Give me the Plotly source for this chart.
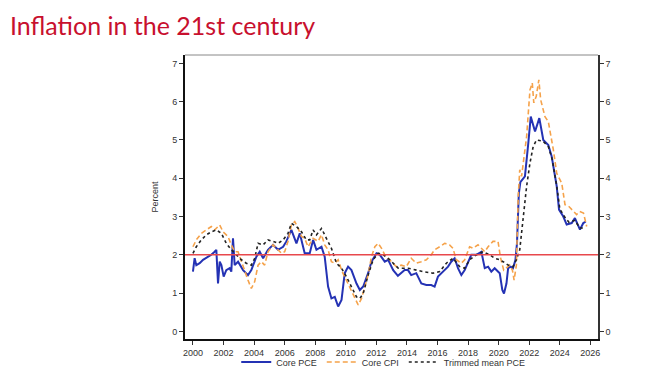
import plotly.graph_objects as go

# Core PCE (blue solid)
pce_x = [2000.0, 2000.11, 2000.22, 2000.44, 2000.66, 2000.98, 2001.2, 2001.42, 2001.53, 2001.64, 2001.75, 2001.86,
         2002.01, 2002.18, 2002.4, 2002.51, 2002.62, 2002.73, 2002.95, 2003.28, 2003.6, 2003.82, 2004.15, 2004.37,
         2004.59, 2004.91, 2005.24, 2005.57, 2005.9, 2006.11, 2006.44, 2006.77, 2006.99, 2007.31, 2007.64, 2007.86,
         2008.08, 2008.41, 2008.62, 2008.84, 2009.06, 2009.28, 2009.5, 2009.72, 2009.93, 2010.15, 2010.37, 2010.7,
         2010.92, 2011.14, 2011.46, 2011.68, 2012.01, 2012.23, 2012.55, 2012.77, 2013.1, 2013.41, 2013.63, 2013.85,
         2014.07, 2014.28, 2014.61, 2014.94, 2015.27, 2015.59, 2015.81, 2016.03, 2016.36, 2016.69, 2016.9, 2017.12,
         2017.34, 2017.56, 2017.78, 2018.0, 2018.21, 2018.54, 2018.87, 2019.09, 2019.31, 2019.52, 2019.74, 2020.07,
         2020.24, 2020.35, 2020.51, 2020.62, 2020.79, 2020.94, 2021.1, 2021.2, 2021.32, 2021.42, 2021.72, 2021.94,
         2022.1, 2022.38, 2022.66, 2022.92, 2023.25, 2023.47, 2023.8, 2023.95, 2024.23, 2024.45, 2024.78, 2024.99,
         2025.32, 2025.54, 2025.7]
pce_y = [1.56, 1.91, 1.73, 1.78, 1.87, 1.95, 2.0, 2.08, 2.13, 1.25, 1.82, 1.73,
         1.43, 1.6, 1.65, 1.56, 2.43, 1.73, 1.82, 1.6, 1.47, 1.6, 1.95, 2.08,
         1.91, 2.13, 2.26, 2.13, 2.21, 2.35, 2.65, 2.3, 2.56, 2.04, 2.04, 2.39,
         2.13, 2.21, 1.95, 1.17, 0.86, 0.9, 0.65, 0.82, 1.52, 1.69, 1.6, 1.25,
         1.08, 1.17, 1.52, 1.82, 2.04, 2.0, 1.82, 1.87, 1.6, 1.45, 1.52, 1.6,
         1.6, 1.47, 1.52, 1.25, 1.21, 1.21, 1.17, 1.43, 1.56, 1.69, 1.82, 1.91,
         1.65, 1.47, 1.6, 1.82, 2.0, 2.0, 2.08, 1.65, 1.69, 1.56, 1.65, 1.52,
         1.08, 0.99, 1.25, 1.65, 1.69, 1.65, 1.87, 2.3, 3.6, 3.9, 4.05, 4.92,
         5.61, 5.22, 5.57, 5.0, 4.87, 4.57, 3.79, 3.18, 3.0, 2.79, 2.83, 2.96,
         2.66, 2.83, 2.87]

# Core CPI (orange dashed)
cpi_x = [2000.0, 2000.22, 2000.55, 2000.87, 2001.2, 2001.42, 2001.75, 2001.97, 2002.29, 2002.51, 2002.73, 2002.95,
         2003.17, 2003.38, 2003.6, 2003.82, 2004.04, 2004.26, 2004.48, 2004.69, 2004.91, 2005.24, 2005.57, 2005.79,
         2006.0, 2006.22, 2006.44, 2006.66, 2006.88, 2007.1, 2007.31, 2007.53, 2007.86, 2008.19, 2008.41, 2008.62,
         2008.84, 2009.06, 2009.28, 2009.5, 2009.72, 2009.93, 2010.15, 2010.37, 2010.59, 2010.81, 2011.03, 2011.24,
         2011.46, 2011.68, 2011.9, 2012.12, 2012.34, 2012.55, 2012.97, 2013.3, 2013.63, 2013.96, 2014.28, 2014.61,
         2014.94, 2015.27, 2015.59, 2015.81, 2016.14, 2016.47, 2016.79, 2017.01, 2017.23, 2017.56, 2017.78, 2018.1,
         2018.32, 2018.65, 2018.87, 2019.09, 2019.31, 2019.63, 2019.96, 2020.11, 2020.33, 2020.51, 2020.72, 2020.9,
         2021.01, 2021.16, 2021.28, 2021.38, 2021.5, 2021.83, 2022.05, 2022.2, 2022.3, 2022.46, 2022.63, 2022.75,
         2023.03, 2023.25, 2023.58, 2023.8, 2024.13, 2024.34, 2024.6, 2025.1, 2025.3, 2025.55, 2025.76]
cpi_y = [2.21, 2.39, 2.56, 2.65, 2.74, 2.65, 2.78, 2.6, 2.48, 2.26, 2.08, 2.08,
         1.82, 1.56, 1.34, 1.12, 1.3, 1.73, 1.82, 1.73, 2.08, 2.26, 2.13, 2.04,
         2.08, 2.35, 2.78, 2.87, 2.69, 2.48, 2.43, 2.21, 2.43, 2.35, 2.52, 2.26,
         2.13, 1.82, 1.78, 1.87, 1.6, 1.43, 1.25, 1.08, 0.9, 0.69, 0.86, 1.17,
         1.47, 1.95, 2.21, 2.3, 2.17, 2.0, 1.82, 1.69, 1.73, 1.69, 1.91, 1.78,
         1.82, 1.87, 2.0, 2.13, 2.21, 2.3, 2.26, 2.17, 1.87, 1.78, 1.87, 2.21,
         2.17, 2.26, 2.17, 2.08, 2.21, 2.35, 2.35, 1.95, 1.6, 1.65, 1.73, 1.6,
         1.34, 1.73, 3.52, 4.22, 4.05, 5.09, 6.31, 6.49, 5.97, 6.14, 6.57, 6.05,
         5.61, 5.48, 4.74, 4.13, 3.87, 3.31, 3.26, 3.05, 3.13, 3.09, 2.74]

# Trimmed mean PCE (black dotted)
tm_x = [2000.0, 2000.22, 2000.55, 2000.87, 2001.2, 2001.53, 2001.86, 2002.18, 2002.51, 2002.84, 2003.17, 2003.49,
        2003.82, 2004.04, 2004.26, 2004.59, 2004.91, 2005.24, 2005.57, 2005.9, 2006.22, 2006.44, 2006.77, 2007.1,
        2007.42, 2007.64, 2007.86, 2008.08, 2008.41, 2008.73, 2009.06, 2009.39, 2009.72, 2010.04, 2010.37, 2010.7,
        2010.92, 2011.14, 2011.46, 2011.79, 2012.12, 2012.45, 2012.88, 2013.43, 2014.07, 2014.61, 2015.05, 2015.7,
        2016.14, 2016.58, 2017.01, 2017.45, 2017.78, 2018.1, 2018.54, 2018.98, 2019.41, 2019.74, 2020.07, 2020.29,
        2020.62, 2020.94, 2021.16, 2021.38, 2021.6, 2021.83, 2022.05, 2022.26, 2022.48, 2022.9, 2023.25, 2023.5,
        2023.8, 2024.0, 2024.3, 2024.6, 2025.0, 2025.3, 2025.7]
tm_y = [2.04, 2.21, 2.39, 2.52, 2.6, 2.65, 2.56, 2.3, 2.13, 2.0, 1.87, 1.78,
        1.73, 1.91, 2.3, 2.26, 2.39, 2.35, 2.3, 2.39, 2.56, 2.82, 2.74, 2.6,
        2.39, 2.39, 2.65, 2.52, 2.69, 2.43, 2.17, 1.78, 1.65, 1.43, 1.17, 0.9,
        0.86, 0.99, 1.47, 1.87, 2.04, 2.0, 1.87, 1.65, 1.65, 1.6, 1.56, 1.52,
        1.56, 1.78, 1.91, 1.69, 1.65, 1.87, 2.0, 2.08, 2.0, 1.91, 1.87, 1.82,
        1.73, 1.69, 1.87, 2.13, 3.0, 3.79, 4.4, 4.83, 5.0, 4.97, 4.83, 4.5,
        3.8, 3.2, 3.0, 2.85, 2.9, 2.7, 2.7]

target = 2.0
x_ticks = list(range(2000, 2027, 2))
y_ticks = list(range(0, 8))

fig = go.Figure()
fig.add_trace(go.Scatter(x=pce_x, y=pce_y, mode="lines", name="Core PCE",
                         line=dict(color="#2432B4", width=2)))
fig.add_trace(go.Scatter(x=cpi_x, y=cpi_y, mode="lines", name="Core CPI",
                         line=dict(color="#F5A24A", width=1.6, dash="5px,3px")))
fig.add_trace(go.Scatter(x=tm_x, y=tm_y, mode="lines", name="Trimmed mean PCE",
                         line=dict(color="#222222", width=1.6, dash="dot")))
fig.add_trace(go.Scatter(x=[2000], y=[target], yaxis="y2", mode="markers",
                         marker=dict(opacity=0), showlegend=False, hoverinfo="skip"))

fig.add_shape(type="line", xref="paper", x0=0, x1=1, yref="y", y0=target, y1=target,
              line=dict(color="#E8484C", width=1.6))
fig.add_shape(type="line", xref="paper", x0=0, x1=1, yref="paper", y0=1, y1=1,
              line=dict(color="#888888", width=1))

# Figure coords: plot area 177..590 x 47..331 (page body adds 8px offset)
fig.add_annotation(text="Inflation in the 21st century", xref="paper", yref="paper",
                   x=(1 - 177) / 413, y=(331 - 1) / 284, xanchor="left", yanchor="top",
                   showarrow=False, borderpad=0,
                   font=dict(family="Lato, sans-serif", size=25, color="#C8102E"))

axis_font = dict(family="Liberation Sans, Arial, sans-serif", size=9, color="#333333")
yr = [-0.2, 7.22]
fig.update_layout(
    width=672, height=372,
    margin=dict(l=177, r=82, t=47, b=41, autoexpand=False),
    paper_bgcolor="white", plot_bgcolor="white",
    xaxis=dict(range=[1999.48, 2026.5], tickvals=x_ticks, ticktext=[str(t) for t in x_ticks],
               showgrid=False, zeroline=False, showline=True, linecolor="#111111", linewidth=2,
               ticks="outside", ticklen=4, tickcolor="#333333", tickfont=axis_font),
    yaxis=dict(range=yr, tickvals=y_ticks, showgrid=False, zeroline=False, showline=True,
               linecolor="#111111", linewidth=2, ticks="outside", ticklen=4, tickcolor="#333333",
               tickfont=axis_font, title=dict(text="Percent", font=axis_font, standoff=12)),
    yaxis2=dict(range=yr, tickvals=y_ticks, overlaying="y", side="right", showgrid=False,
                zeroline=False, showline=True, linecolor="#333333", linewidth=1.5,
                ticks="outside", ticklen=4, tickcolor="#333333", tickfont=axis_font),
    legend=dict(orientation="h", x=0.48, xanchor="center", y=-0.03, yanchor="top",
                font=dict(family="Liberation Sans, Arial, sans-serif", size=9, color="#333333"),
                bgcolor="rgba(0,0,0,0)", tracegroupgap=0),
    showlegend=True,
)

fig.write_html("out.html")
